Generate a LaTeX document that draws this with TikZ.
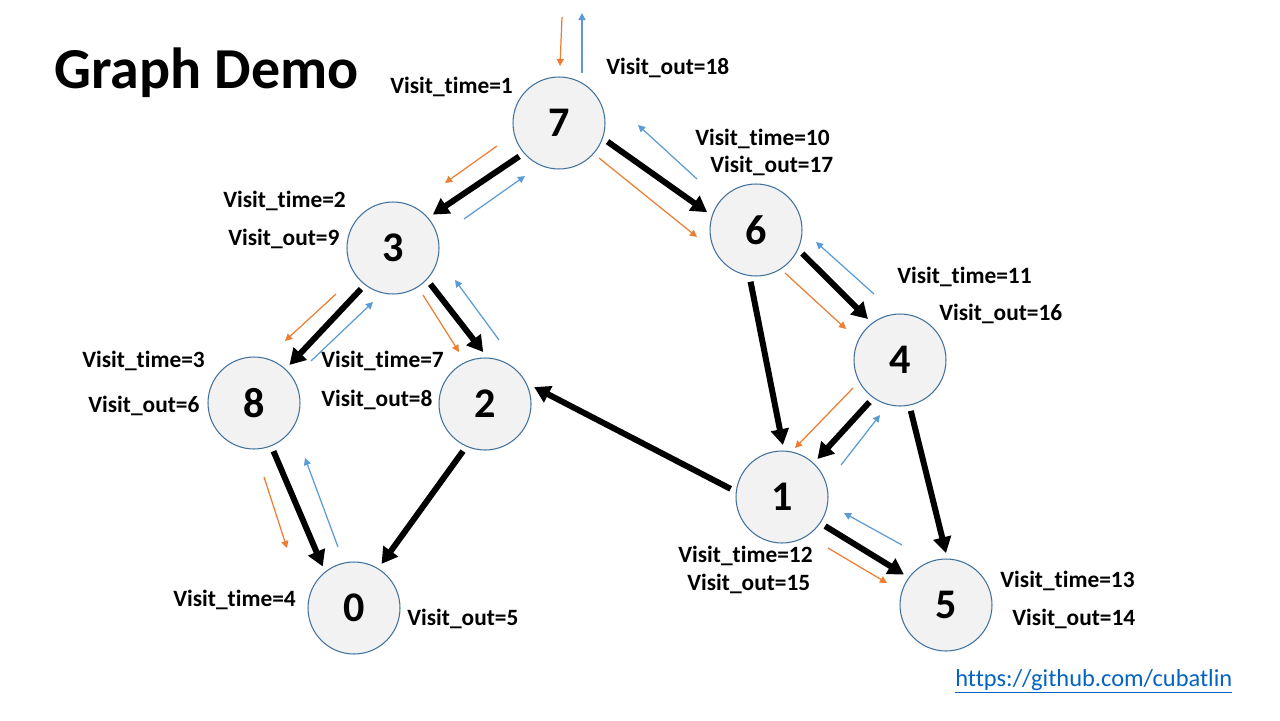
\documentclass[tikz,border=0pt]{standalone}
\usepackage{xcolor}
\usepackage{fontspec}
\setmainfont[Ligatures=NoCommon]{Carlito}
\usetikzlibrary{arrows.meta}
\definecolor{goorange}{HTML}{ED7D31}
\definecolor{backblue}{HTML}{5B9BD5}
\definecolor{vertexfill}{HTML}{F2F2F2}
\definecolor{vertexline}{HTML}{41719C}
\definecolor{linkblue}{HTML}{0563C1}

\begin{document}
\begin{tikzpicture}[x=0.02cm, y=-0.02cm,
 vertex/.style={circle, draw=vertexline, line width=0.6pt, fill=vertexfill, minimum size=1.84cm, inner sep=0pt, outer sep=0.12cm, font=\fontsize{24}{28}\selectfont\bfseries},
 tree/.style={line width=3.4pt, -{Triangle[length=9pt, width=10pt]}},
 go/.style={goorange, line width=0.7pt, -{Triangle[length=4pt, width=4pt]}},
 back/.style={backblue, line width=0.7pt, -{Triangle[length=4pt, width=4pt]}},
 info/.style={anchor=base west, inner sep=0pt, font=\fontsize{13.3}{16}\selectfont\bfseries}]
 \fill[white] (0,0) rectangle (1280,720);
 \useasboundingbox (0,0) rectangle (1280,720);

 \node[anchor=base west, inner sep=0pt, font=\fontsize{33}{40}\selectfont\bfseries] (title) at (54, 88) {Graph Demo};

 % vertices
 \node[vertex] (n7) at (559, 123) {7};
 \node[vertex] (n3) at (393, 248) {3};
 \node[vertex] (n6) at (756, 230) {6};
 \node[vertex] (n8) at (254, 403) {8};
 \node[vertex] (n2) at (485, 404) {2};
 \node[vertex] (n0) at (354, 608) {0};
 \node[vertex] (n4) at (900, 360) {4};
 \node[vertex] (n1) at (782, 497) {1};
 \node[vertex] (n5) at (946, 605) {5};

 % dfs tree edges
 \draw[tree] (n7.220) -- (n3.40);
 \draw[tree] (n7.339) -- (n6.160);
 \draw[tree] (n3.232) -- (n8.47);
 \draw[tree] (n3.316) -- (n2.92);
 \draw[tree] (n8.292) -- (n0.127);
 \draw[tree] (n2.245) -- (n0.58);
 \draw[tree] (n6.333) -- (n4.128);
 \draw[tree] (n6.264) -- (n1.89);
 \draw[tree] (n4.234) -- (n1.47);
 \draw[tree] (n4.282) -- (n5.90);
 \draw[tree] (n1.171) -- (n2.19);
 \draw[tree] (n1.326) -- (n5.144);

 % going down
 \draw[go] (562, 17) -- (560, 66);
 \draw[go] (497, 146) -- (445, 183);
 \draw[go] (599, 158) -- (697, 237);
 \draw[go] (336, 294) -- (285, 341);
 \draw[go] (423, 295) -- (459, 352);
 \draw[go] (264, 477) -- (287, 548);
 \draw[go] (785, 273) -- (846, 329);
 \draw[go] (853, 388) -- (795, 448);
 \draw[go] (828, 548) -- (887, 583);

 % coming back
 \draw[back] (582, 73) -- (582, 13);
 \draw[back] (464, 219) -- (525, 176);
 \draw[back] (697, 179) -- (638, 125);
 \draw[back] (311, 361) -- (373, 302);
 \draw[back] (499, 340) -- (455, 280);
 \draw[back] (338, 547) -- (305, 458);
 \draw[back] (874, 294) -- (816, 242);
 \draw[back] (841, 465) -- (880, 415);
 \draw[back] (902, 545) -- (844, 513);

 % visit labels
 \node[info] (t7) at (390, 93) {Visit\_time=1};
 \node[info] (o7) at (606, 74) {Visit\_out=18};
 \node[info] (t6) at (695, 145) {Visit\_time=10};
 \node[info] (o6) at (710, 172) {Visit\_out=17};
 \node[info] (t3) at (223, 207) {Visit\_time=2};
 \node[info] (o3) at (228, 245) {Visit\_out=9};
 \node[info] (t8) at (82, 367) {Visit\_time=3};
 \node[info] (o8) at (88, 412) {Visit\_out=6};
 \node[info] (t2) at (321, 367) {Visit\_time=7};
 \node[info] (o2) at (321, 406) {Visit\_out=8};
 \node[info] (t0) at (173, 606) {Visit\_time=4};
 \node[info] (o0) at (407, 625) {Visit\_out=5};
 \node[info] (t4) at (897, 283) {Visit\_time=11};
 \node[info] (o4) at (939, 320) {Visit\_out=16};
 \node[info] (t1) at (678, 562) {Visit\_time=12};
 \node[info] (o1) at (687, 590) {Visit\_out=15};
 \node[info] (t5) at (1000, 587) {Visit\_time=13};
 \node[info] (o5) at (1012, 625) {Visit\_out=14};

 \node[anchor=base west, inner sep=0pt, text=linkblue, font=\fontsize{13.9}{16}\selectfont] (url) at (955, 686) {\underline{https://github.com/cubatlin}};
\end{tikzpicture}
\end{document}
